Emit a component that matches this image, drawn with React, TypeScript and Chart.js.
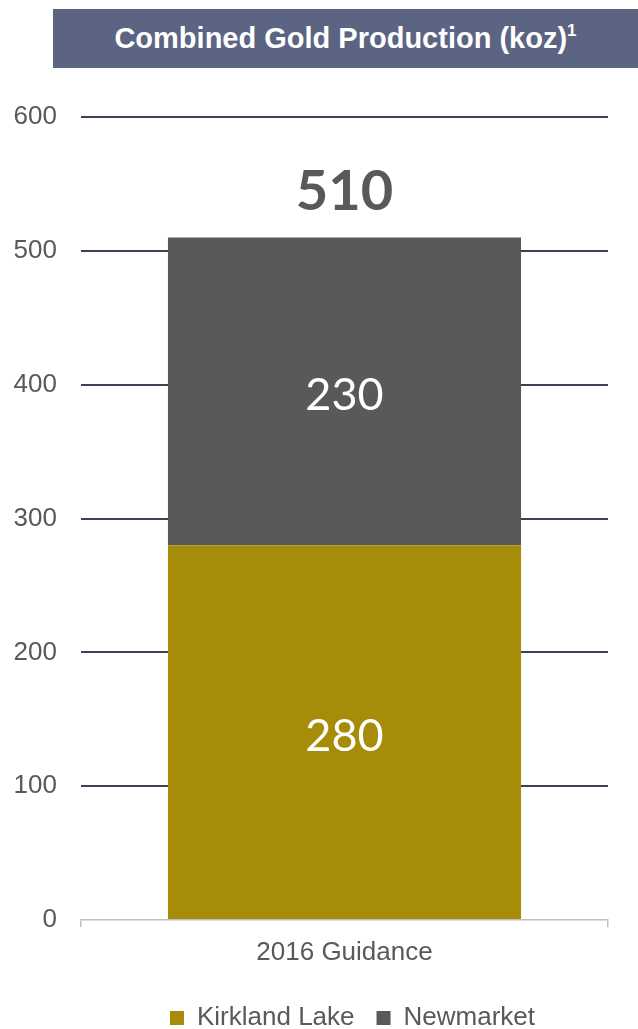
import React, { useEffect, useRef } from "react";
import { Chart, registerables } from "chart.js";

Chart.register(...registerables);

const categories = ["2016 Guidance"];
const seriesNames = ["Kirkland Lake", "Newmarket"];
const kirklandLake = [280];
const newmarket = [230];
const yTicks = [0, 100, 200, 300, 400, 500, 600];

const GOLD = "#a68c08";
const GREY = "#595959";
const TEXT = "#595959";
const SANS = "'Liberation Sans', Arial, sans-serif";

// Writes each segment's value inside it and the stack total above the bar.
const barLabels = {
  id: "barLabels",
  afterDatasetsDraw(chart: any) {
    const { ctx } = chart;
    ctx.save();
    ctx.textAlign = "center";
    ctx.textBaseline = "middle";
    const n = chart.data.datasets.length;
    chart.data.datasets.forEach((ds: any, di: number) => {
      const meta = chart.getDatasetMeta(di);
      meta.data.forEach((bar: any, i: number) => {
        ctx.fillStyle = "#ffffff";
        ctx.font = "45px Lato";
        ctx.fillText(String(ds.data[i]), bar.x, (bar.y + bar.base) / 2 + 4);
        if (di === n - 1) {
          const total = chart.data.datasets.reduce(
            (s: number, d: any) => s + d.data[i],
            0
          );
          ctx.fillStyle = TEXT;
          ctx.font = "bold 56px Lato";
          ctx.fillText(String(total), bar.x, bar.y - 46);
        }
      });
    });
    ctx.restore();
  },
};

// Centres the legend under the plot area instead of the whole canvas.
const legendUnderPlot = {
  id: "legendUnderPlot",
  afterLayout(chart: any) {
    const lg = chart.legend;
    if (!lg) return;
    lg.left = chart.chartArea.left + 16;
    lg.right = chart.chartArea.right;
  },
};

export default function App() {
  const ref = useRef<HTMLCanvasElement>(null);

  useEffect(() => {
    if (!ref.current) return;
    const chart = new Chart(ref.current, {
      type: "bar",
      data: {
        labels: categories,
        datasets: [
          {
            label: seriesNames[0],
            data: kirklandLake,
            backgroundColor: GOLD,
            categoryPercentage: 1,
            barPercentage: 0.67,
          },
          {
            label: seriesNames[1],
            data: newmarket,
            backgroundColor: GREY,
            categoryPercentage: 1,
            barPercentage: 0.67,
          },
        ],
      },
      options: {
        responsive: false,
        animation: false,
        layout: { padding: { top: 117, left: 0, right: 30, bottom: -12 } },
        plugins: {
          tooltip: { enabled: false },
          legend: {
            position: "bottom",
            labels: {
              boxWidth: 14,
              boxHeight: 14,
              padding: 22,
              color: TEXT,
              font: { family: SANS, size: 26 },
            },
          },
        },
        scales: {
          x: {
            stacked: true,
            border: { display: true, color: "#bfbfbf", width: 1.5 },
            grid: {
              display: true,
              drawOnChartArea: false,
              drawTicks: true,
              tickLength: 7,
              color: "#bfbfbf",
              lineWidth: 1.5,
              offset: true,
            },
            ticks: {
              color: TEXT,
              padding: 10,
              font: { family: SANS, size: 26 },
            },
            afterFit(scale: any) {
              scale.height = 63;
            },
          },
          y: {
            stacked: true,
            min: 0,
            max: 600,
            border: { display: false },
            grid: {
              drawTicks: false,
              lineWidth: 2,
              color: (c: any) =>
                c.tick && c.tick.value === 0 ? "rgba(0,0,0,0)" : "#3b4258",
            },
            afterBuildTicks(scale: any) {
              scale.ticks = yTicks.map((v) => ({ value: v }));
            },
            ticks: {
              color: TEXT,
              padding: 24,
              font: { family: SANS, size: 26 },
            },
            afterFit(scale: any) {
              scale.width = 81;
            },
          },
        },
      },
      plugins: [barLabels, legendUnderPlot],
    });
    return () => chart.destroy();
  }, []);

  return (
    <div
      style={{
        position: "absolute",
        left: 0,
        top: 0,
        width: 638,
        height: 1029,
        background: "#ffffff",
      }}
    >
      <canvas
        ref={ref}
        width={638}
        height={1029}
        style={{ position: "absolute", left: 0, top: 0 }}
      />
      <div
        style={{
          position: "absolute",
          left: 53,
          top: 9,
          width: 585,
          height: 59,
          background: "#5b6482",
          color: "#ffffff",
          fontFamily: SANS,
          fontWeight: "bold",
          fontSize: 29,
          display: "flex",
          alignItems: "center",
          justifyContent: "center",
        }}
      >
        <span>
          Combined Gold Production (koz)
          <sup style={{ fontSize: 17, verticalAlign: "top", lineHeight: 1 }}>1</sup>
        </span>
      </div>
    </div>
  );
}
